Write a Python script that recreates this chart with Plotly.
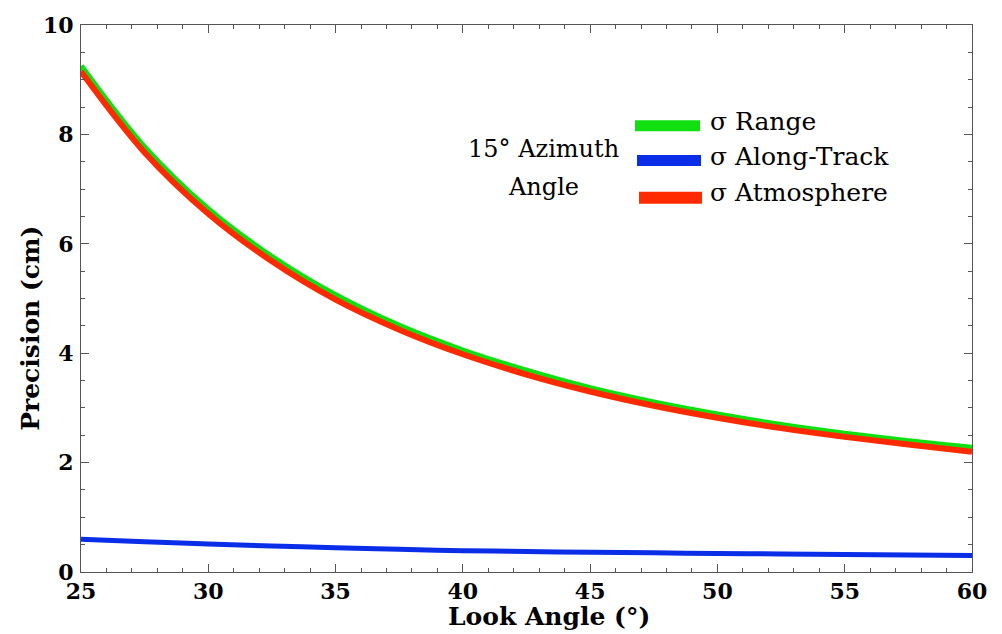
import plotly.graph_objects as go

# ---- data ----
look_angle = [25, 27.5, 30, 32.5, 35, 37.5, 40, 42.5, 45, 47.5, 50, 52.5, 55, 57.5, 60]
sigma_range = [9.25, 7.76, 6.63, 5.76, 5.06, 4.50, 4.05, 3.68, 3.36, 3.10, 2.88, 2.69, 2.53, 2.39, 2.27]
sigma_along = [0.60, 0.555, 0.51, 0.475, 0.445, 0.415, 0.39, 0.375, 0.36, 0.35, 0.34, 0.33, 0.32, 0.31, 0.30]
sigma_atmos = [9.15, 7.67, 6.55, 5.68, 4.98, 4.43, 3.98, 3.61, 3.30, 3.04, 2.82, 2.63, 2.47, 2.33, 2.20]
series_names = ["σ Range", "σ Along-Track", "σ Atmosphere"]
colors = ["#10e010", "#0a2de8", "#ff2a00"]

W, H = 1002, 634
L, R, T, B = 81, 30, 21, 62
pw, ph = W - L - R, H - T - B


def px_x(px):
    return (px - L) / pw


def px_y(py):
    return (H - B - py) / ph


fig = go.Figure()
for name, vals, col, w in zip(series_names, [sigma_range, sigma_along, sigma_atmos], colors, [6, 5, 6]):
    fig.add_trace(go.Scatter(x=look_angle, y=vals, mode="lines", name=name,
                             line=dict(color=col, width=w, shape="spline"),
                             showlegend=False))

serif = "DejaVu Serif"
axis_common = dict(
    showline=True, linecolor="#555555", linewidth=1, mirror="ticks",
    ticks="inside", ticklen=8, tickwidth=1, tickcolor="#555555",
    showgrid=False, zeroline=False,
    tickfont=dict(family=serif, size=22, color="black", weight="bold"),
)

fig.update_xaxes(range=[25, 60], tick0=25, dtick=5,
                 minor=dict(dtick=1, ticks="inside", ticklen=4, tickcolor="#555555"),
                 ticklabelstandoff=0, **axis_common)
fig.update_yaxes(range=[0, 10], tick0=0, dtick=2,
                 minor=dict(dtick=0.5, ticks="inside", ticklen=4, tickcolor="#555555"),
                 ticklabelstandoff=2, **axis_common)

# legend (manual swatches + text)
swatches = [(635, 700, 117, 128), (637, 701, 152, 163), (639, 702, 189, 201)]
label_y = [118, 153, 190]
for (x0, x1, y0, y1), col, name, ly in zip(swatches, colors, series_names, label_y):
    fig.add_shape(type="rect", xref="paper", yref="paper",
                  x0=px_x(x0), x1=px_x(x1), y0=px_y(y1), y1=px_y(y0),
                  fillcolor=col, line=dict(width=0))
    fig.add_annotation(xref="paper", yref="paper", x=px_x(708), y=px_y(ly),
                       xanchor="left", yanchor="middle", text=name, showarrow=False,
                       font=dict(family=serif, size=25, color="black"))

fig.add_annotation(xref="paper", yref="paper", x=px_x(543), y=px_y(146),
                   xanchor="center", yanchor="middle", text="15° Azimuth", showarrow=False,
                   font=dict(family=serif, size=24, color="black"))
fig.add_annotation(xref="paper", yref="paper", x=px_x(543), y=px_y(184),
                   xanchor="center", yanchor="middle", text="Angle", showarrow=False,
                   font=dict(family=serif, size=24, color="black"))

# axis titles
fig.add_annotation(xref="paper", yref="paper", x=px_x(549), y=px_y(617),
                   xanchor="center", yanchor="middle", text="Look Angle (°)", showarrow=False,
                   font=dict(family=serif, size=25, color="black", weight="bold"))
fig.add_annotation(xref="paper", yref="paper", x=px_x(31), y=px_y(327),
                   xanchor="center", yanchor="middle", text="Precision (cm)", showarrow=False,
                   textangle=-90,
                   font=dict(family=serif, size=25, color="black", weight="bold"))

fig.update_layout(width=W, height=H, margin=dict(l=L, r=R, t=T, b=B),
                  paper_bgcolor="white", plot_bgcolor="white", showlegend=False)

fig.write_html("out.html")
